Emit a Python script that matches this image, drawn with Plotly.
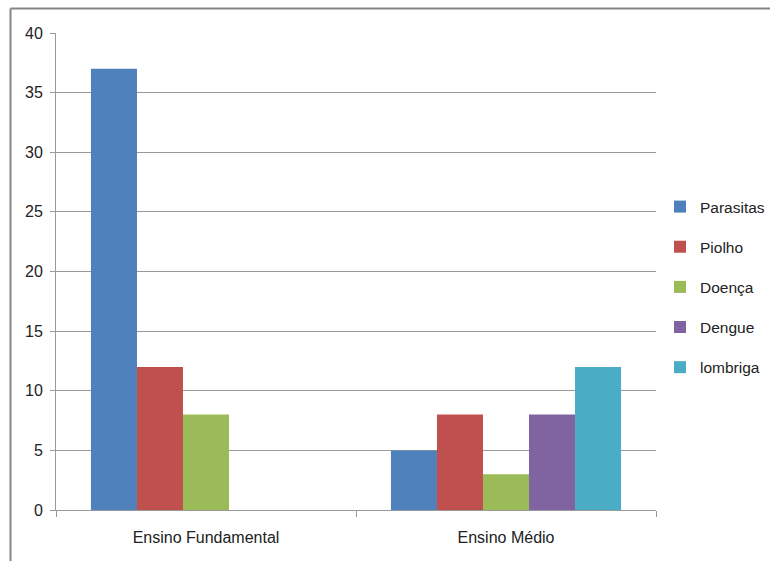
import plotly.graph_objects as go

categories = ["Ensino Fundamental", "Ensino Médio"]
series_names = ["Parasitas", "Piolho", "Doença", "Dengue", "lombriga"]
series_values = [
    [37, 5],
    [12, 8],
    [8, 3],
    [0, 8],
    [0, 12],
]
colors = ["#4F81BD", "#C0504D", "#9BBB59", "#8064A2", "#4BACC6"]
y_ticks = [0, 5, 10, 15, 20, 25, 30, 35, 40]

FONT = "Liberation Sans, Arial, sans-serif"

fig = go.Figure()
for name, vals, col in zip(series_names, series_values, colors):
    fig.add_trace(go.Bar(x=categories, y=vals, name=name, marker_color=col,
                         marker_line_width=0, legendgroup=name))

L, R, T, B = 56, 114, 33, 51
W, H = 770, 561
pw, ph = W - L - R, H - T - B

def px_x(x):
    return (x - L) / pw

def px_y(y):
    return 1 - (y - T) / ph

fig.update_layout(
    width=W, height=H,
    margin=dict(l=L, r=R, t=T, b=B, pad=0, autoexpand=False),
    paper_bgcolor="white", plot_bgcolor="white",
    barmode="group", bargap=0.233, bargroupgap=0,
    font=dict(family=FONT, size=16, color="#222"),
    legend=dict(x=px_x(660), y=px_y(287), xanchor="left", yanchor="middle",
                font=dict(size=15.5, family=FONT), tracegroupgap=17,
                itemwidth=30),
    shapes=[
        dict(type="line", xref="paper", yref="paper", x0=px_x(10.5), x1=px_x(780),
             y0=px_y(8.5), y1=px_y(8.5), line=dict(color="#868686", width=2)),
        dict(type="line", xref="paper", yref="paper", x0=px_x(10.5), x1=px_x(10.5),
             y0=px_y(8.5), y1=px_y(570), line=dict(color="#868686", width=2)),
    ],
)
fig.update_yaxes(range=[0, 40], tickvals=y_ticks, showgrid=True, gridcolor="#9A9A9A",
                 gridwidth=1, showline=True, linecolor="#9A9A9A", linewidth=1,
                 ticks="outside", ticklen=5, tickcolor="#9A9A9A",
                 tickfont=dict(size=16, family=FONT, color="#222"), zeroline=False,
                 ticklabelstandoff=4)
fig.update_xaxes(showline=True, linecolor="#9A9A9A", linewidth=1,
                 ticks="outside", ticklen=6, tickcolor="#9A9A9A", tickson="boundaries",
                 tickfont=dict(size=16, family=FONT, color="#222"),
                 ticklabelstandoff=13, mirror=False)
fig.write_html("out.html")
